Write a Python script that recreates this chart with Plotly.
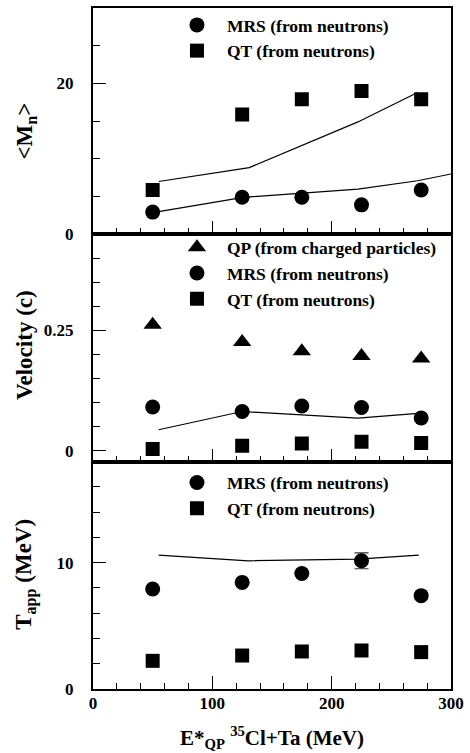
import plotly.graph_objects as go

# ---------------- data ----------------
x_E = [50, 125, 175, 225, 275]

# top panel: neutron multiplicity
mn_mrs = [2.95, 4.92, 4.92, 3.91, 5.87]
mn_qt = [5.89, 15.9, 17.9, 19.0, 17.9]
mn_model_qt_x = [55, 131, 222, 272]
mn_model_qt_y = [7.0, 8.85, 14.9, 18.8]
mn_model_mrs_x = [55, 126, 222, 272, 300]
mn_model_mrs_y = [3.0, 4.9, 6.0, 7.1, 8.0]

# middle panel: velocity
vel_qp = [0.262, 0.226, 0.207, 0.197, 0.192]
vel_mrs = [0.091, 0.0815, 0.093, 0.0898, 0.068]
vel_qt = [0.0035, 0.0104, 0.015, 0.0186, 0.016]
vel_model_x = [55, 125, 222, 275]
vel_model_y = [0.0435, 0.0815, 0.0677, 0.078]

# bottom panel: apparent temperature
t_mrs = [7.92, 8.44, 9.15, 10.15, 7.39]
t_mrs_err = [0, 0, 0, 0.63, 0]
t_qt = [2.23, 2.65, 2.97, 3.05, 2.92]
t_model_x = [55, 130, 222, 273]
t_model_y = [10.6, 10.15, 10.28, 10.6]

lbl_mrs = "MRS (from neutrons)"
lbl_qt = "QT (from neutrons)"
lbl_qp = "QP (from charged particles)"

FONT = "Liberation Serif"
BLACK = "black"
MS = 15

fig = go.Figure()

def pts(x, y, name, symbol, xa, ya, leg, size=MS, err=None):
    tr = go.Scatter(x=x, y=y, mode="markers", name=name,
                    marker=dict(symbol=symbol, size=size, color=BLACK, line=dict(width=0)),
                    xaxis=xa, yaxis=ya, legend=leg, showlegend=True)
    if err is not None:
        tr.error_y = dict(type="data", array=err, visible=True, color="#333",
                          thickness=1.2, width=7)
    fig.add_trace(tr)

def line(x, y, xa, ya):
    fig.add_trace(go.Scatter(x=x, y=y, mode="lines", line=dict(color=BLACK, width=1.2),
                             xaxis=xa, yaxis=ya, showlegend=False, hoverinfo="skip"))

# top panel (x3/y3)
line(mn_model_qt_x, mn_model_qt_y, "x3", "y3")
line(mn_model_mrs_x, mn_model_mrs_y, "x3", "y3")
pts(x_E, mn_mrs, lbl_mrs, "circle", "x3", "y3", "legend")
pts(x_E, mn_qt, lbl_qt, "square", "x3", "y3", "legend", size=14)

# middle panel (x2/y2)
line(vel_model_x, vel_model_y, "x2", "y2")
pts(x_E, vel_qp, lbl_qp, "triangle-up", "x2", "y2", "legend2", size=16)
pts(x_E, vel_mrs, lbl_mrs, "circle", "x2", "y2", "legend2")
pts(x_E, vel_qt, lbl_qt, "square", "x2", "y2", "legend2", size=14)

# bottom panel (x/y)
line(t_model_x, t_model_y, "x", "y")
pts(x_E, t_mrs, lbl_mrs, "circle", "x", "y", "legend3", err=t_mrs_err)
pts(x_E, t_qt, lbl_qt, "square", "x", "y", "legend3", size=14)

# ---------------- layout ----------------
W, H = 470, 753
L, R, T, B = 93, 14, 6, 64
ph = H - T - B
d1 = 228 / ph
d2 = 456 / ph

tickfont = dict(family=FONT, size=17, color=BLACK, weight="bold")

def xax(anchor, labels):
    return dict(range=[0, 300], anchor=anchor, domain=[0, 1],
                tickmode="linear", tick0=0, dtick=100, ticks="inside", ticklen=13,
                tickwidth=1.3, tickcolor=BLACK,
                minor=dict(tickmode="linear", tick0=0, dtick=20, ticks="inside", ticklen=6,
                           tickwidth=1.3, tickcolor=BLACK),
                showticklabels=labels, tickfont=tickfont, ticklabelstandoff=-2,
                showgrid=False, zeroline=False, showline=True, linewidth=2,
                linecolor=BLACK, mirror=True)

def yax(anchor, dom, rng, dtick, mdt):
    return dict(range=rng, anchor=anchor, domain=dom,
                tickmode="linear", tick0=0, dtick=dtick, ticks="inside", ticklen=13,
                tickwidth=1.3, tickcolor=BLACK,
                minor=dict(tickmode="linear", tick0=0, dtick=mdt, ticks="inside", ticklen=7,
                           tickwidth=1.3, tickcolor=BLACK),
                tickfont=tickfont, ticklabelstandoff=14,
                showgrid=False, zeroline=False, showline=True, linewidth=2,
                linecolor=BLACK, mirror=True)

legfont = dict(family=FONT, size=17.5, color=BLACK, weight="bold")

def leg(ypx):
    return dict(x=(168 - L) / 363, xanchor="left", y=(H - B - ypx) / ph, yanchor="top",
                font=legfont, bgcolor="rgba(0,0,0,0)", borderwidth=0, itemwidth=50,
                tracegroupgap=0)

fig.update_layout(
    width=W, height=H,
    margin=dict(l=L, r=R, t=T, b=B, pad=0),
    paper_bgcolor="white", plot_bgcolor="white",
    font=dict(family=FONT, color=BLACK, weight="bold"),
    xaxis=xax("y", True),
    xaxis2=xax("y2", False),
    xaxis3=xax("y3", False),
    yaxis=yax("x", [0, d1], [0, 18], 10, 2),
    yaxis2=yax("x2", [d1, d2], [-0.0228, 0.45], 0.25, 0.05),
    yaxis3=yax("x3", [d2, 1], [0, 30], 20, 5),
    legend=leg(5),
    legend2=leg(228),
    legend3=leg(464),
    showlegend=True,
)

def ytitle(text, ypx, xpx=24):
    fig.add_annotation(text=text, xref="paper", yref="paper",
                       x=(xpx - L) / 363, y=(H - B - ypx) / ph,
                       xanchor="center", yanchor="middle", textangle=-90, showarrow=False,
                       font=dict(family=FONT, size=23, color=BLACK, weight="bold"))

ytitle("&lt;M<sub>n</sub>&gt;", 129, 25)
ytitle("Velocity (c)", 344, 23)
ytitle("T<sub>app</sub> (MeV)", 573.5, 25)

fig.add_annotation(text="E*<sub>QP</sub> <sup>35</sup>Cl+Ta (MeV)", xref="paper", yref="paper",
                   x=0.5, y=(H - B - 738) / ph, xanchor="center", yanchor="middle",
                   showarrow=False,
                   font=dict(family=FONT, size=21, color=BLACK, weight="bold"))

fig.write_html("out.html")
